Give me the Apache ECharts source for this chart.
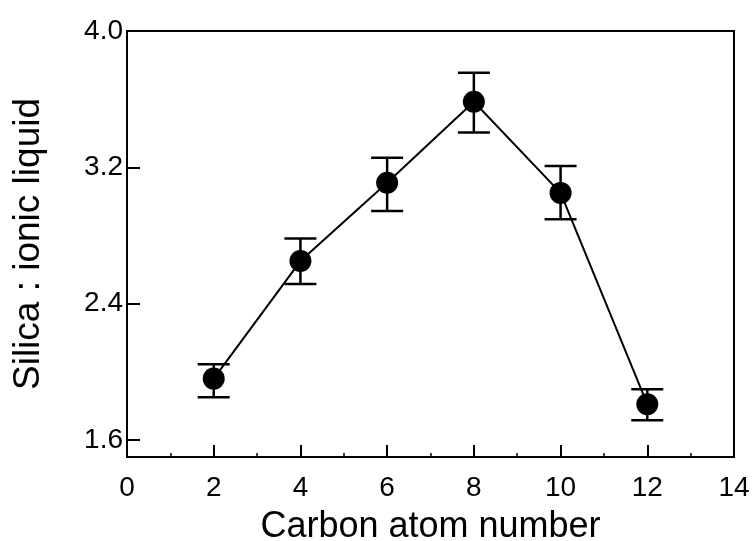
<!DOCTYPE html>
<html>
<head>
<meta charset="utf-8">
<script src="https://cdn.jsdelivr.net/npm/echarts@6/dist/echarts.min.js"></script>
<style>html,body{margin:0;padding:0;background:#fff;}#c{width:754px;height:541px;}</style>
</head>
<body>
<div id="c"></div>
<script>
const carbonNumbers = [2, 4, 6, 8, 10, 12];
const ratioValues = [1.96, 2.65, 3.11, 3.585, 3.05, 1.81];
const errorLow = [1.85, 2.515, 2.944, 3.405, 2.895, 1.715];
const errorHigh = [2.044, 2.783, 3.256, 3.755, 3.208, 1.897];
const yTickValues = [1.6, 2.4, 3.2, 4.0];

const chart = echarts.init(document.getElementById('c'), null, {renderer: 'canvas'});
const font = 'Liberation Sans, Arial, Helvetica, sans-serif';
const pointData = carbonNumbers.map((x, i) => [x, ratioValues[i]]);
const errData = carbonNumbers.map((x, i) => [x, errorLow[i], errorHigh[i]]);

chart.setOption({
  animation: false,
  backgroundColor: '#fff',
  grid: {left: 127, right: 20, top: 31, bottom: 84, containLabel: false, outerBoundsMode: 'none',
         show: true, borderColor: '#000', borderWidth: 2, backgroundColor: 'transparent'},
  xAxis: {
    type: 'value', min: 0, max: 14, interval: 2,
    name: 'Carbon atom number', nameLocation: 'middle', nameGap: 52,
    nameTextStyle: {fontFamily: font, fontSize: 36, color: '#000'},
    axisLine: {show: true, lineStyle: {color: '#000', width: 2}},
    axisTick: {show: true, inside: true, length: 12, lineStyle: {color: '#000', width: 2}},
    minorTick: {show: true, splitNumber: 2, length: 4, lineStyle: {color: '#000', width: 1.5}},
    axisLabel: {fontFamily: font, fontSize: 28, color: '#000', margin: 17},
    splitLine: {show: false}
  },
  yAxis: {
    type: 'value', min: 1.5, max: 4.0,
    name: 'Silica : ionic liquid', nameLocation: 'middle', nameGap: 80, nameRotate: 90,
    nameTextStyle: {fontFamily: font, fontSize: 37, color: '#000'},
    axisLine: {show: true, lineStyle: {color: '#000', width: 2}},
    axisTick: {show: true, inside: true, length: 13, customValues: yTickValues, lineStyle: {color: '#000', width: 2}},
    axisLabel: {fontFamily: font, fontSize: 28, color: '#000', margin: 4, customValues: yTickValues, formatter: v => v.toFixed(1)},
    splitLine: {show: false}
  },
  series: [
    {
      type: 'custom',
      data: errData,
      z: 3,
      renderItem: function (params, api) {
        const x = api.value(0);
        const lo = api.coord([x, api.value(1)]);
        const hi = api.coord([x, api.value(2)]);
        const hw = 16;
        const style = {stroke: '#000', lineWidth: 2.5};
        return {
          type: 'group',
          children: [
            {type: 'line', shape: {x1: lo[0], y1: lo[1], x2: hi[0], y2: hi[1]}, style},
            {type: 'line', shape: {x1: lo[0] - hw, y1: lo[1], x2: lo[0] + hw, y2: lo[1]}, style},
            {type: 'line', shape: {x1: hi[0] - hw, y1: hi[1], x2: hi[0] + hw, y2: hi[1]}, style}
          ]
        };
      }
    },
    {
      type: 'line',
      data: pointData,
      z: 4,
      symbol: 'circle', symbolSize: 22,
      lineStyle: {color: '#000', width: 2},
      itemStyle: {color: '#000', borderWidth: 0}
    }
  ]
});
</script>
</body>
</html>
